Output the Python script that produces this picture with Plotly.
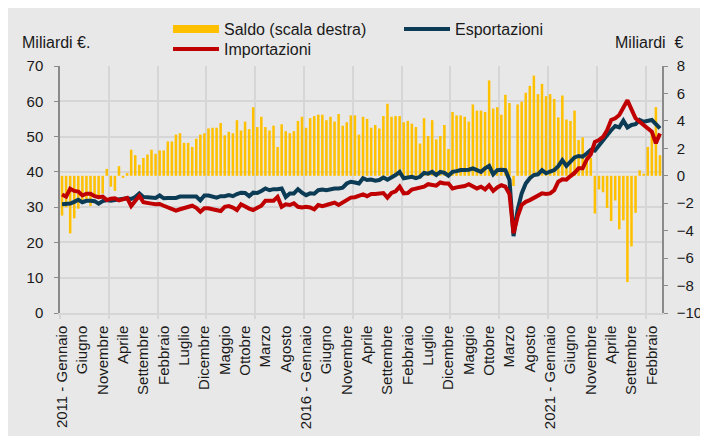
import plotly.graph_objects as go

# ---- data (monthly, Jan 2011 - Apr 2023) ----
month_index = list(range(148))

saldo = [
    -2.9, -2.3, -4.2, -3.1, -2.4, -1.8, -1.9, -2.2, -1.5, -1.7, -1.3, 0.5,
    -0.8, -1.1, 0.7, -0.15, 0.2, 1.9, 1.5, 0.8, 1.3, 1.55, 1.9, 1.6,
    1.85, 1.85, 2.5, 2.5, 3.0, 3.1, 2.4, 2.4, 2.1, 2.7, 3.0, 3.1,
    3.45, 3.5, 3.5, 3.85, 2.95, 3.2, 3.1, 4.05, 3.3, 3.95, 3.4, 5.0,
    3.55, 4.3, 3.55, 3.3, 3.65, 2.1, 3.75, 3.25, 3.1, 3.25, 4.0, 4.3,
    3.5, 4.2, 4.35, 4.45, 4.45, 4.05, 4.3, 3.95, 4.5, 3.65, 3.9, 4.4,
    4.4, 3.0, 4.3, 4.15, 3.5, 3.7, 3.45, 4.35, 5.25, 4.3, 4.35, 4.35,
    3.9, 4.0, 3.8, 3.55, 2.35, 4.2, 2.9, 4.05, 2.65, 2.9, 3.7, 1.95,
    4.65, 4.4, 4.4, 4.3, 3.95, 5.2, 4.75, 4.75, 4.65, 6.95, 4.9, 5.0,
    4.45, 5.9, 5.3, -0.75, 5.2, 5.4, 6.05, 6.55, 7.3, 5.95, 6.7, 5.8,
    5.95, 5.6, 4.25, 5.85, 4.1, 4.0, 4.75, 2.6, 2.8, 1.5, 1.3, -2.75,
    -1.0, -1.2, -2.35, -3.3, -1.8, -3.9, -3.25, -7.75, -5.15, -2.7, 0.4, 0.15,
    2.1, 3.2, 5.0, 1.5,
]

esportazioni = [
    30.8, 30.8, 31.0, 31.5, 32.1, 31.4, 31.8, 31.8, 31.7, 31.0, 31.7, 32.0,
    31.8, 32.0, 32.2, 32.3, 32.5, 32.3, 32.9, 33.9, 32.9, 32.8, 32.6, 32.6,
    33.3, 32.5, 32.6, 32.6, 32.6, 33.0, 33.0, 32.8, 32.8, 33.0, 31.9, 33.3,
    33.3, 33.0, 32.7, 33.1, 33.1, 33.4, 33.1, 33.7, 34.1, 34.0, 33.1, 34.1,
    34.0, 34.6, 35.3, 34.8, 35.1, 35.1, 35.3, 32.9, 33.9, 33.9, 35.1, 34.1,
    33.4, 33.9, 33.8, 34.8, 35.0, 34.8, 35.1, 35.3, 35.3, 35.5, 36.7, 37.2,
    37.0, 36.7, 38.2, 37.7, 37.8, 37.5, 37.7, 38.4, 37.8, 38.4, 39.1, 40.0,
    38.2, 38.4, 38.6, 38.2, 38.6, 39.7, 39.5, 40.0, 39.1, 40.0, 39.7, 38.9,
    40.0, 40.2, 40.5, 40.5, 40.6, 41.0, 40.6, 40.0, 41.0, 41.7, 39.3, 40.5,
    40.6, 40.5, 37.7, 21.8, 29.2, 33.9, 36.7, 38.2, 39.1, 39.3, 40.5, 39.6,
    40.1, 40.5, 41.6, 43.3, 41.7, 42.9, 44.1, 44.5, 44.3, 45.2, 46.2, 46.0,
    47.6, 49.0, 50.4, 51.8, 53.0, 52.6, 54.5, 52.6, 53.3, 53.5, 54.7, 54.2,
    54.5, 54.7, 53.5, 52.3,
]

importazioni = [
    33.6, 33.0, 35.2, 34.6, 34.4, 33.3, 33.8, 33.8, 33.1, 32.8, 33.0, 32.0,
    32.4, 32.5, 31.9, 32.3, 32.6, 30.3, 31.8, 33.2, 31.4, 31.1, 31.0, 30.8,
    30.9, 30.4, 30.0, 29.5, 29.0, 29.4, 29.8, 30.1, 30.4, 29.8, 28.7, 29.7,
    29.7, 29.4, 29.2, 28.9, 30.1, 30.3, 29.9, 29.2, 30.8, 30.1, 29.6, 29.2,
    29.9, 30.4, 31.8, 31.8, 31.8, 32.9, 30.1, 30.8, 30.6, 31.1, 30.1, 29.9,
    30.1, 29.9, 29.4, 30.6, 30.3, 30.6, 31.1, 31.3, 30.6, 31.3, 32.2, 32.7,
    32.8, 33.3, 33.6, 33.1, 33.7, 33.7, 33.9, 34.0, 32.7, 34.0, 34.5, 35.8,
    33.9, 34.0, 35.0, 35.3, 35.6, 35.8, 36.5, 36.4, 36.1, 37.0, 36.7, 36.7,
    35.3, 35.6, 35.8, 36.0, 36.5, 35.8, 35.3, 35.8, 35.0, 36.2, 34.6, 35.6,
    36.2, 35.8, 33.7, 22.6, 27.3, 30.6, 31.5, 32.0, 32.7, 33.4, 33.9, 33.7,
    33.9, 34.8, 37.2, 37.9, 37.8, 38.8, 39.7, 41.0, 41.0, 43.5, 45.0, 48.5,
    49.0, 49.9, 51.8, 54.7, 55.2, 56.1, 58.0, 60.3, 57.7, 55.2, 54.2, 53.3,
    52.3, 51.4, 48.1, 50.9,
]

tick_positions = list(range(0, 148, 5))
tick_labels = [
    "2011 - Gennaio", "Giugno", "Novembre", "Aprile", "Settembre", "Febbraio",
    "Luglio", "Dicembre", "Maggio", "Ottobre", "Marzo", "Agosto",
    "2016 - Gennaio", "Giugno", "Novembre", "Aprile", "Settembre", "Febbraio",
    "Luglio", "Dicembre", "Maggio", "Ottobre", "Marzo", "Agosto",
    "2021 - Gennaio", "Giugno", "Novembre", "Aprile", "Settembre", "Febbraio",
]

# ---- figure geometry (figure pixel coordinates) ----
W, H = 708, 436
L, R, T, B = 52, 54, 58, 131


def cx(px):
    return px / W


def cy(py):
    return (H - py) / H


FONT = "Liberation Sans, Arial, sans-serif"
TXT = "#1a1a1a"
BG = "#e8e8e8"
GRID = "#d6d6d6"
AXIS = "#8a8a8a"

fig = go.Figure()
fig.add_trace(go.Bar(
    x=month_index, y=saldo, name="Saldo (scala destra)",
    marker=dict(color="#FFC000", line=dict(width=0)), width=0.62,
    yaxis="y", legendgroup="saldo", showlegend=False,
))
# legend entry for the balance bars (drawn as a wide band like the original key)
fig.add_trace(go.Scatter(
    x=[None], y=[None], name="Saldo (scala destra)", mode="lines",
    line=dict(color="#FFC000", width=8), yaxis="y", legendgroup="saldo",
    legend="legend", hoverinfo="skip",
))
fig.add_trace(go.Scatter(
    x=month_index, y=esportazioni, name="Esportazioni", mode="lines",
    line=dict(color="#0C3B55", width=4), yaxis="y2", legend="legend3",
))
fig.add_trace(go.Scatter(
    x=month_index, y=importazioni, name="Importazioni", mode="lines",
    line=dict(color="#C00000", width=4), yaxis="y2", legend="legend2",
))

legend_common = dict(
    orientation="h", xanchor="left", yanchor="middle", bgcolor="rgba(0,0,0,0)",
    borderwidth=0, font=dict(family=FONT, size=16, color=TXT), itemwidth=46,
    xref="container", yref="container",
)

fig.update_layout(
    width=W, height=H,
    margin=dict(l=L, r=R, t=T, b=B, pad=0, autoexpand=False),
    paper_bgcolor=BG,
    plot_bgcolor=BG,
    font=dict(family=FONT, size=15, color=TXT),
    showlegend=True,
    legend=dict(x=cx(160), y=cy(21), **legend_common),
    legend2=dict(x=cx(160), y=cy(41), **legend_common),
    legend3=dict(x=cx(391), y=cy(21), **legend_common),
    xaxis=dict(
        range=[-0.5, 147.5], tickmode="array", tickvals=tick_positions,
        ticktext=tick_labels, tickangle=-90, ticks="", showgrid=False,
        zeroline=False, showline=True, linecolor=GRID, linewidth=1.5,
        ticklabelstandoff=5,
        tickfont=dict(family=FONT, size=15, color=TXT),
        minor=dict(tickmode="linear", tick0=-0.5, dtick=12, showgrid=True,
                   gridcolor=GRID, gridwidth=1.5, ticks="outside", ticklen=4,
                   tickcolor=GRID, tickwidth=1.5),
    ),
    yaxis=dict(
        side="right", range=[-10, 8], tickmode="linear", tick0=0, dtick=2,
        showgrid=False, zeroline=False, showline=True, linecolor=AXIS,
        linewidth=1.5, ticks="outside", ticklen=4, tickcolor=AXIS,
        ticklabelstandoff=6, tickfont=dict(family=FONT, size=15, color=TXT),
    ),
    yaxis2=dict(
        overlaying="y", side="left", range=[0, 70], tickmode="linear",
        tick0=0, dtick=10, showgrid=True, gridcolor=GRID, gridwidth=1.5,
        zeroline=False, showline=True, linecolor=AXIS, linewidth=1.5,
        ticks="outside", ticklen=4, tickcolor=AXIS, ticklabelstandoff=8,
        tickfont=dict(family=FONT, size=15, color=TXT),
    ),
    annotations=[
        dict(text="Miliardi €.", xref="paper", yref="paper",
             x=(12 - L) / (W - L - R), y=(H - B - 35) / (H - T - B),
             xanchor="left", yanchor="middle", showarrow=False,
             font=dict(family=FONT, size=16, color=TXT)),
        dict(text="Miliardi\u00a0 €", xref="paper", yref="paper",
             x=(678 - L) / (W - L - R), y=(H - B - 35) / (H - T - B),
             xanchor="right", yanchor="middle", showarrow=False,
             font=dict(family=FONT, size=16, color=TXT)),
    ],
)

fig.write_html("out.html")
